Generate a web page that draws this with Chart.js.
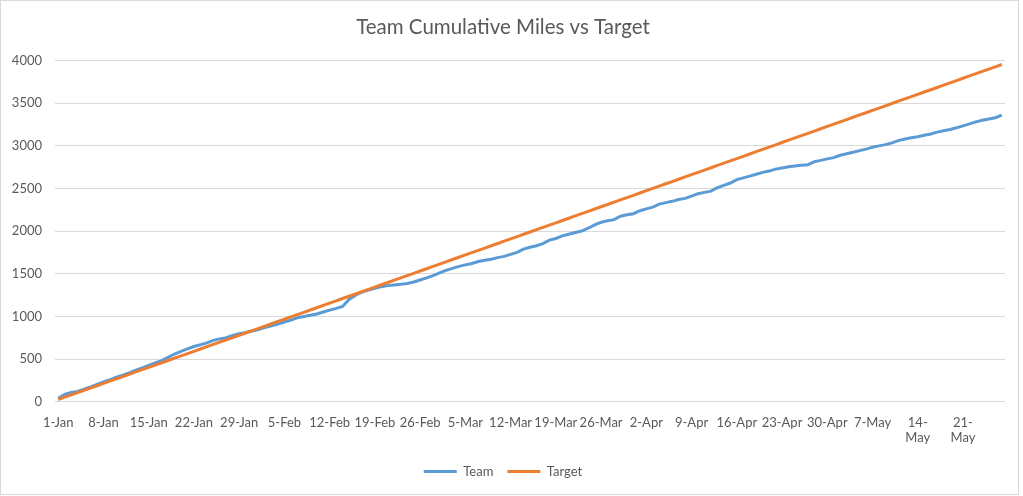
<!DOCTYPE html>
<html>
<head>
<meta charset="utf-8">
<script src="https://cdn.jsdelivr.net/npm/chart.js@4.4.1/dist/chart.umd.min.js"></script>
<style>
  body { margin: 0; background: #fff; }
  #wrap { position: absolute; left: 0; top: 0; width: 1019px; height: 495px; border: 1px solid #d9d9d9; box-sizing: border-box; }
</style>
</head>
<body>
<div id="wrap"><canvas id="canvas"></canvas></div>
<script>
const days = [
  '1-Jan','2-Jan','3-Jan','4-Jan','5-Jan','6-Jan','7-Jan','8-Jan','9-Jan','10-Jan','11-Jan','12-Jan','13-Jan','14-Jan','15-Jan','16-Jan','17-Jan','18-Jan','19-Jan','20-Jan','21-Jan','22-Jan','23-Jan','24-Jan','25-Jan','26-Jan','27-Jan','28-Jan','29-Jan','30-Jan','31-Jan',
  '1-Feb','2-Feb','3-Feb','4-Feb','5-Feb','6-Feb','7-Feb','8-Feb','9-Feb','10-Feb','11-Feb','12-Feb','13-Feb','14-Feb','15-Feb','16-Feb','17-Feb','18-Feb','19-Feb','20-Feb','21-Feb','22-Feb','23-Feb','24-Feb','25-Feb','26-Feb','27-Feb','28-Feb',
  '1-Mar','2-Mar','3-Mar','4-Mar','5-Mar','6-Mar','7-Mar','8-Mar','9-Mar','10-Mar','11-Mar','12-Mar','13-Mar','14-Mar','15-Mar','16-Mar','17-Mar','18-Mar','19-Mar','20-Mar','21-Mar','22-Mar','23-Mar','24-Mar','25-Mar','26-Mar','27-Mar','28-Mar','29-Mar','30-Mar','31-Mar',
  '1-Apr','2-Apr','3-Apr','4-Apr','5-Apr','6-Apr','7-Apr','8-Apr','9-Apr','10-Apr','11-Apr','12-Apr','13-Apr','14-Apr','15-Apr','16-Apr','17-Apr','18-Apr','19-Apr','20-Apr','21-Apr','22-Apr','23-Apr','24-Apr','25-Apr','26-Apr','27-Apr','28-Apr','29-Apr','30-Apr',
  '1-May','2-May','3-May','4-May','5-May','6-May','7-May','8-May','9-May','10-May','11-May','12-May','13-May','14-May','15-May','16-May','17-May','18-May','19-May','20-May','21-May','22-May','23-May','24-May','25-May','26-May','27-May'
]

// labels Excel shows on the axis (every 7 days)
const tickLabels = ['1-Jan','8-Jan','15-Jan','22-Jan','29-Jan','5-Feb','12-Feb','19-Feb','26-Feb','5-Mar','12-Mar','19-Mar','26-Mar','2-Apr','9-Apr','16-Apr','23-Apr','30-Apr','7-May','14-May','21-May']
const wrappedLabels = ['14-May','21-May']

const team = [
  42, 88, 110, 122, 148, 175, 205, 232, 258, 290, 312, 340, 372, 398, 428, 455, 482, 520, 560, 592,
  620, 648, 668, 690, 720, 738, 752, 778, 798, 812, 830, 848, 872, 890, 912, 935, 958, 985, 1000, 1015,
  1030, 1052, 1075, 1095, 1118, 1200, 1250, 1285, 1310, 1330, 1350, 1362, 1370, 1378, 1388, 1405, 1428, 1452, 1478, 1512,
  1540, 1565, 1588, 1605, 1622, 1645, 1660, 1672, 1690, 1705, 1728, 1752, 1790, 1812, 1830, 1855, 1895, 1915, 1945, 1965,
  1985, 2002, 2035, 2075, 2105, 2122, 2135, 2175, 2192, 2205, 2240, 2262, 2282, 2318, 2335, 2350, 2372, 2385, 2412, 2440,
  2455, 2470, 2510, 2538, 2565, 2605, 2625, 2645, 2668, 2690, 2705, 2728, 2742, 2755, 2765, 2772, 2780, 2815, 2830, 2848,
  2862, 2890, 2908, 2925, 2945, 2962, 2985, 3000, 3015, 3035, 3062, 3080, 3095, 3108, 3125, 3140, 3162, 3178, 3192, 3212,
  3235, 3258, 3282, 3300, 3315, 3330, 3360
]

const target = [
  27, 54, 81, 108, 135, 161, 188, 215, 242, 269, 296, 323, 350, 377, 404, 430, 457, 484, 511, 538,
  565, 592, 619, 646, 673, 699, 726, 753, 780, 807, 834, 861, 888, 915, 942, 968, 995, 1022, 1049, 1076,
  1103, 1130, 1157, 1184, 1211, 1237, 1264, 1291, 1318, 1345, 1372, 1399, 1426, 1453, 1480, 1506, 1533, 1560, 1587, 1614,
  1641, 1668, 1695, 1722, 1749, 1775, 1802, 1829, 1856, 1883, 1910, 1937, 1964, 1991, 2018, 2044, 2071, 2098, 2125, 2152,
  2179, 2206, 2233, 2260, 2287, 2313, 2340, 2367, 2394, 2421, 2448, 2475, 2502, 2529, 2556, 2582, 2609, 2636, 2663, 2690,
  2717, 2744, 2771, 2798, 2825, 2851, 2878, 2905, 2932, 2959, 2986, 3013, 3040, 3067, 3094, 3120, 3147, 3174, 3201, 3228,
  3255, 3282, 3309, 3336, 3363, 3389, 3416, 3443, 3470, 3497, 3524, 3551, 3578, 3605, 3632, 3658, 3685, 3712, 3739, 3766,
  3793, 3820, 3847, 3874, 3901, 3927, 3954
]

const grey = '#595959'
Chart.defaults.font.family = 'Lato, "Open Sans", sans-serif'
Chart.defaults.color = grey

const data = {
  labels: days,
  datasets: [
    {
      label: 'Team',
      data: team,
      borderColor: '#5B9BD5',
      backgroundColor: '#5B9BD5',
      borderWidth: 3,
      pointRadius: 0,
      tension: 0,
      order: 1,
    },
    {
      label: 'Target',
      data: target,
      borderColor: '#ED7D31',
      backgroundColor: '#ED7D31',
      borderWidth: 3,
      pointRadius: 0,
      tension: 0,
      order: 0,
    },
  ],
}

const config = {
  type: 'line',
  data: data,
  options: {
    responsive: true,
    maintainAspectRatio: false,
    animation: false,
    layout: { padding: { left: 0, right: 13, top: 0, bottom: 6 } },
    plugins: {
      title: {
        display: true,
        text: 'Team Cumulative Miles vs Target',
        color: grey,
        font: { size: 20.5, weight: 'normal' },
        padding: { top: 14, bottom: 21 },
      },
      legend: {
        position: 'bottom',
        labels: {
          usePointStyle: true,
          pointStyle: 'line',
          pointStyleWidth: 33,
          color: grey,
          font: { size: 13 },
          padding: 14,
          sort: (a, b) => a.datasetIndex - b.datasetIndex,
        },
      },
      tooltip: { enabled: false },
    },
    scales: {
      x: {
        offset: true,
        grid: { display: false },
        border: { display: false },
        ticks: {
          autoSkip: false,
          maxRotation: 0,
          minRotation: 0,
          padding: 5,
          font: { size: 13 },
          callback: function (value, index) {
            const lab = days[index]
            if (!tickLabels.includes(lab)) return ''
            if (wrappedLabels.includes(lab)) return lab.replace('-', '-\n').split('\n')
            return lab
          },
        },
      },
      y: {
        min: 0,
        max: 4000,
        border: { display: false },
        grid: { color: '#D9D9D9', drawTicks: false },
        ticks: {
          stepSize: 500,
          padding: 13,
          font: { size: 13 },
          callback: (v) => String(v),
        },
        afterFit: function (scale) { scale.width = 54 },
      },
    },
  },
}

const canvas = document.getElementById('canvas')
const chart = new Chart(canvas, config)
</script>
</body>
</html>
